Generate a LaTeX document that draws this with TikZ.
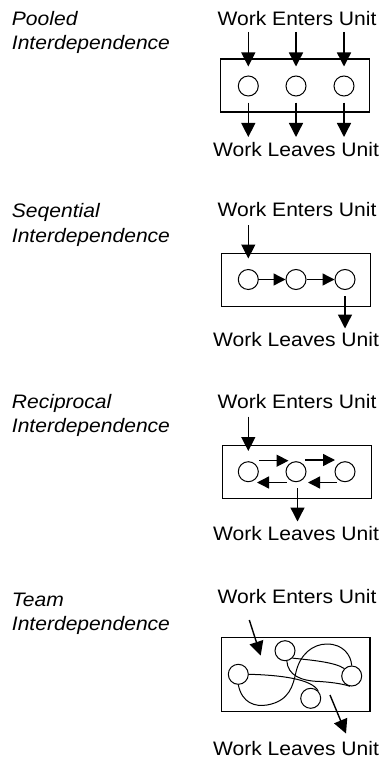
\documentclass[tikz,border=0pt]{standalone}
\usepackage{fontspec}
\setmainfont{Liberation Sans}[FakeStretch=1.08]
\usetikzlibrary{arrows.meta}
\begin{document}
\begin{tikzpicture}[x=1pt,y=-1pt,
  lbl/.style={font=\fontsize{19.5}{24}\selectfont, anchor=base, inner sep=0},
  side/.style={font=\fontsize{19.5}{24}\selectfont\itshape, anchor=base west, inner sep=0},
  unit/.style={draw, line width=1.1pt, inner sep=0, minimum width=149pt, minimum height=53pt},
  task/.style={draw, circle, line width=1pt, inner sep=0, minimum size=20pt},
  flow/.style={line width=1.4pt, -{Triangle[width=14pt,length=14pt]}},
  sflow/.style={line width=1.4pt, -{Triangle[width=12pt,length=12pt]}},
  link/.style={line width=1pt},
]
\useasboundingbox (0,0) rectangle (384,759);

% ---------- Pooled ----------
\node[side] (p1) at (11.7,26) {Pooled};
\node[side] (p2) at (11.7,50) {Interdependence};
\node[lbl] (pin) at (297,25.5) {Work Enters Unit};
\node[lbl] (pout) at (296,156.5) {Work Leaves Unit};
\node[unit] (pbox) at (295,85.5) {};
\node[task] (pa) at (248.3,86) {};
\node[task] (pb) at (296,86) {};
\node[task] (pc) at (344,86) {};
\foreach \n/\x in {a/248.3,b/296,c/344}{
  \coordinate (pi\n) at (\x,32);
  \coordinate (pt\n) at (\x,66.5);
  \coordinate (po\n) at (\x,102.7);
  \coordinate (pe\n) at (\x,137);
  \draw[flow] (pi\n) -- (pt\n);
  \draw[flow] (po\n) -- (pe\n);
}

% ---------- Sequential ----------
\node[side] (s1) at (11.7,218) {Seqential};
\node[side] (s2) at (11.7,242.5) {Interdependence};
\node[lbl] (sin) at (297,216.5) {Work Enters Unit};
\node[lbl] (sout) at (296,346.5) {Work Leaves Unit};
\node[unit] (sbox) at (296.3,279.7) {};
\node[task] (sa) at (248.3,279.5) {};
\node[task] (sb) at (296,279.5) {};
\node[task] (sc) at (345,279.5) {};
\coordinate (sinA) at (248.3,225);
\coordinate (sinB) at (248.3,258.5);
\coordinate (soutA) at (345,296);
\coordinate (soutB) at (345,328.5);
\draw[flow] (sinA) -- (sinB);
\draw[sflow] (sa) -- (sb);
\draw[sflow] (sb) -- (sc);
\draw[flow] (soutA) -- (soutB);

% ---------- Reciprocal ----------
\node[side] (r1) at (11.7,408) {Reciprocal};
\node[side] (r2) at (11.7,432.5) {Interdependence};
\node[lbl] (rin) at (297,408) {Work Enters Unit};
\node[lbl] (rout) at (296,540.5) {Work Leaves Unit};
\node[unit] (rbox) at (296.7,471.7) {};
\node[task] (ra) at (248.3,471.7) {};
\node[task] (rb) at (296,471.7) {};
\node[task] (rc) at (345,471.7) {};
\coordinate (rinA) at (248.3,416.7);
\coordinate (rinB) at (248.3,451);
\coordinate (f1a) at (259.3,460.7);
\coordinate (f1b) at (288.5,460.7);
\coordinate (f2a) at (305,460);
\coordinate (f2b) at (335,460);
\coordinate (b1a) at (286.7,482.5);
\coordinate (b1b) at (257,482.5);
\coordinate (b2a) at (336.7,482.5);
\coordinate (b2b) at (308,482.5);
\coordinate (routA) at (297.5,488.3);
\coordinate (routB) at (297.5,521.5);
\draw[flow] (rinA) -- (rinB);
\draw[sflow] (f1a) -- (f1b);
\draw[sflow] (f2a) -- (f2b);
\draw[sflow] (b1a) -- (b1b);
\draw[sflow] (b2a) -- (b2b);
\draw[flow] (routA) -- (routB);

% ---------- Team ----------
\node[side] (t1) at (11.7,606) {Team};
\node[side] (t2) at (11.7,630) {Interdependence};
\node[lbl] (tin) at (297,603) {Work Enters Unit};
\node[lbl] (tout) at (296,755) {Work Leaves Unit};
\node[unit, minimum width=148.3pt, minimum height=74.4pt] (tbox) at (295.8,674.5) {};
\node[task] (ta) at (238.3,674.3) {};
\node[task] (tb) at (285,650.7) {};
\node[task] (tc) at (351.7,676) {};
\node[task] (td) at (310.7,698.3) {};
\coordinate (tinA) at (249.3,620);
\coordinate (tinB) at (260.7,655.5);
\coordinate (toutA) at (330,695);
\coordinate (toutB) at (346,733.5);
\draw[flow] (tinA) -- (tinB);
\draw[flow] (toutA) -- (toutB);
\draw[link] (ta.east) .. controls (280,675) and (312,679) .. (td.north east);
\draw[link] (ta.south) .. controls (242,703) and (255,707) .. (267,705)
  .. controls (290,701) and (293,685) .. (296,672)
  .. controls (300,655) and (312,644) .. (327,644)
  .. controls (343,644) and (351,655) .. (tc.north);
\draw[link] (tb.south east) .. controls (310,660) and (335,662) .. (tc.north west);
\draw[link] (tb.-80) .. controls (288,675) and (300,681) .. (320,681.5)
  .. controls (335,682.5) and (345,684.5) .. (tc.-100);
\end{tikzpicture}
\end{document}
